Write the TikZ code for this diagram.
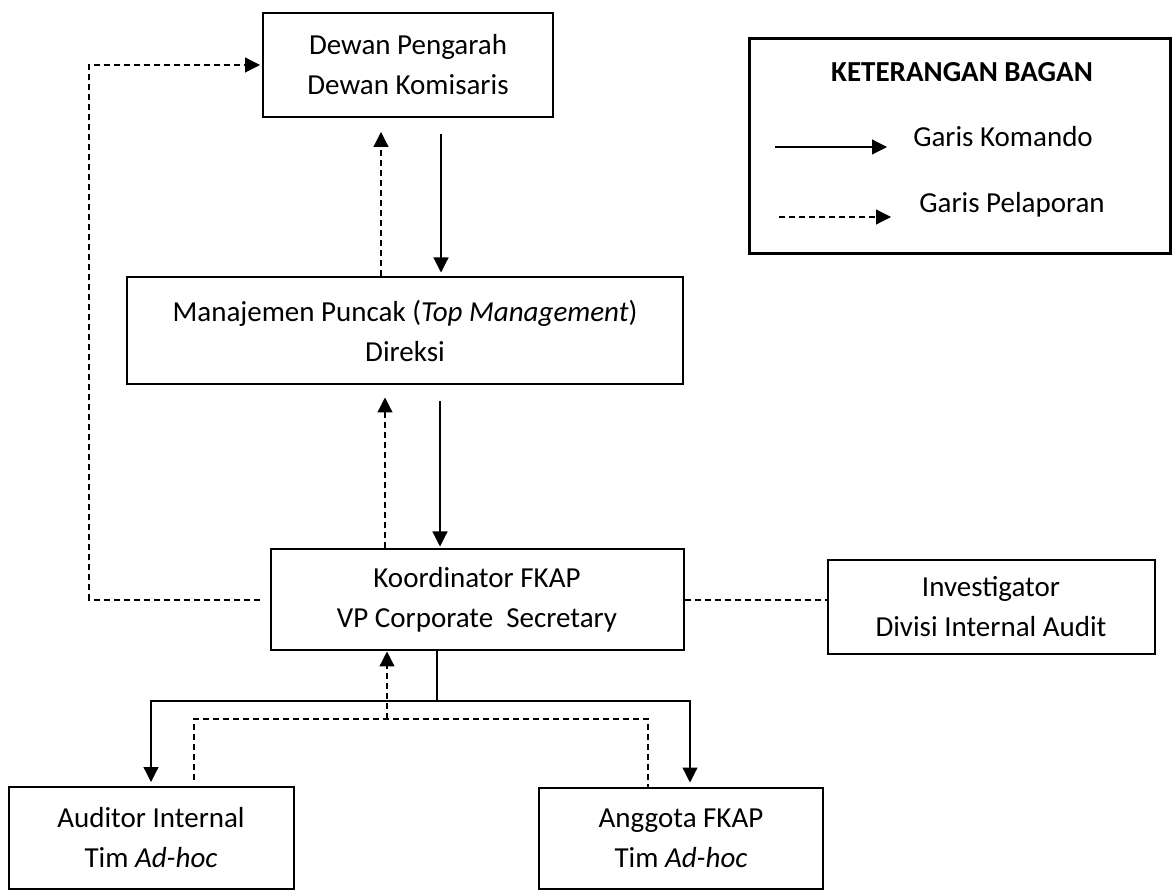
\documentclass[tikz,border=0pt]{standalone}
\usepackage{fontspec}
\setmainfont{Carlito}
\usetikzlibrary{positioning}
\usetikzlibrary{arrows.meta}
\usetikzlibrary{calc}

\tikzset{
  unit/.style={draw,line width=1pt,align=center,inner sep=0pt,
    font=\fontsize{14.5}{20}\selectfont},
  command/.style={line width=0.6pt},
  report/.style={line width=0.6pt,dash pattern=on 3pt off 2pt},
}

\begin{document}
\begin{tikzpicture}[x=0.5pt,y=-0.5pt,>={Triangle[length=7.5pt,width=7.5pt]}]
  \useasboundingbox (0,0) rectangle (1173,892);
  % boxes of the organisation
  \node[unit,minimum width=145pt,minimum height=52pt] (dewan) at (408,65) {Dewan Pengarah\\Dewan Komisaris};
  \node[unit,minimum width=278pt,minimum height=53.5pt] (manaj) at (405,331) {Manajemen Puncak (\textit{Top Management})\\Direksi};
  \node[unit,minimum width=206.5pt,minimum height=50.5pt] (koord) at (477,600) {Koordinator FKAP\\VP Corporate \ Secretary};
  \node[unit,minimum width=163.5pt,minimum height=47pt] (invest) at (991,607) {Investigator\\Divisi Internal Audit};
  \node[unit,minimum width=142.5pt,minimum height=51pt] (auditor) at (151,838) {Auditor Internal\\Tim \textit{Ad-hoc}};
  \node[unit,minimum width=142pt,minimum height=50.5pt] (anggota) at (681,838) {Anggota FKAP\\Tim \textit{Ad-hoc}};
  % legend
  \node[draw,line width=1.6pt,minimum width=210.5pt,minimum height=107.5pt] (legend) at (960,146) {};
  \node[font=\fontsize{14.5}{20}\selectfont\bfseries] (legtitle) at (962,72) {KETERANGAN BAGAN};
  \node[font=\fontsize{14.5}{20}\selectfont] (legkom) at (1003,137) {Garis Komando};
  \node[font=\fontsize{14.5}{20}\selectfont] (legpel) at (1012,205) {Garis Pelaporan};
  \coordinate (komA) at (775,147); \coordinate (komB) at (887,147);
  \coordinate (pelA) at (779,217); \coordinate (pelB) at (891,217);
  \draw[command,->] (komA) -- (komB);
  \draw[report,->] (pelA) -- (pelB);
  % command and reporting lines between the levels
  \draw[report,->,shorten >=7pt] (manaj.north -| 381,0) -- (dewan.south -| 381,0);
  \draw[command,->,shorten <=8pt,shorten >=2pt] (dewan.south -| 441,0) -- (manaj.north -| 441,0);
  \draw[report,->,shorten >=6pt] (koord.north -| 385,0) -- (manaj.south -| 385,0);
  \draw[command,->,shorten <=8pt,shorten >=1pt] (manaj.south -| 440,0) -- (koord.north -| 440,0);
  \draw[report,->,shorten <=5pt,shorten >=1pt] (koord.west) -- (89,600) |- (dewan.west);
  \draw[report] (koord.east) -- (koord.east -| invest.west);
  % the ad-hoc team below the coordinator
  \draw[command,->,shorten >=2pt] (koord.south -| 437,0) -- (437,701) -| (auditor.north);
  \draw[command,->,shorten >=2pt] (437,701) -| (anggota.north -| 690,0);
  \draw[report,shorten <=3pt] (auditor.north -| 194,0) |- (648,719) -- (anggota.north -| 648,0);
  \draw[report,->] (387,719) -- (koord.south -| 387,0);
\end{tikzpicture}
\end{document}
